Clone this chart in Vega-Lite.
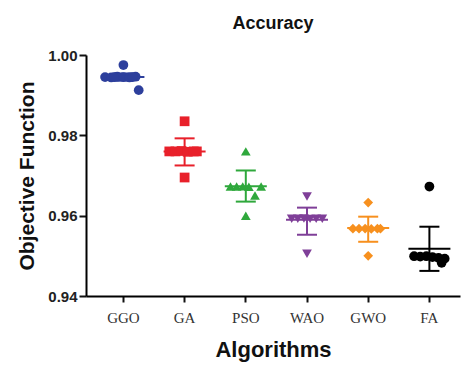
{
  "$schema": "https://vega.github.io/schema/vega-lite/v6.json",
  "autosize": "none",
  "width": 374,
  "height": 241,
  "padding": {"left": 86, "top": 55, "right": 2, "bottom": 69},
  "background": "white",
  "config": {"view": {"stroke": null}, "font": "Liberation Sans"},
  "title": {"text": "Accuracy", "fontSize": 18, "fontWeight": "bold", "font": "Liberation Sans", "color": "#111", "anchor": "middle", "offset": 15},
  "datasets": {
    "points": [
      {"alg": "GGO", "value": 0.9975, "slot": 0},
      {"alg": "GGO", "value": 0.9945, "slot": -6},
      {"alg": "GGO", "value": 0.9944, "slot": -4},
      {"alg": "GGO", "value": 0.9946, "slot": -2},
      {"alg": "GGO", "value": 0.9945, "slot": 0},
      {"alg": "GGO", "value": 0.9944, "slot": 2},
      {"alg": "GGO", "value": 0.9946, "slot": 4},
      {"alg": "GGO", "value": 0.9945, "slot": -3},
      {"alg": "GGO", "value": 0.9945, "slot": 3},
      {"alg": "GGO", "value": 0.99125, "slot": 5},
      {"alg": "GA", "value": 0.9835, "slot": 0},
      {"alg": "GA", "value": 0.976, "slot": -5},
      {"alg": "GA", "value": 0.976, "slot": -3},
      {"alg": "GA", "value": 0.9761, "slot": -1},
      {"alg": "GA", "value": 0.9759, "slot": 1},
      {"alg": "GA", "value": 0.976, "slot": 3},
      {"alg": "GA", "value": 0.976, "slot": 4},
      {"alg": "GA", "value": 0.9695, "slot": 0},
      {"alg": "PSO", "value": 0.976, "slot": 0},
      {"alg": "PSO", "value": 0.96725, "slot": -5},
      {"alg": "PSO", "value": 0.96725, "slot": -3},
      {"alg": "PSO", "value": 0.9673, "slot": -1},
      {"alg": "PSO", "value": 0.9672, "slot": 1},
      {"alg": "PSO", "value": 0.96725, "slot": 5},
      {"alg": "PSO", "value": 0.965, "slot": 3},
      {"alg": "PSO", "value": 0.96, "slot": 0},
      {"alg": "WAO", "value": 0.96475, "slot": 0},
      {"alg": "WAO", "value": 0.95925, "slot": -5},
      {"alg": "WAO", "value": 0.95925, "slot": -3},
      {"alg": "WAO", "value": 0.9593, "slot": -1},
      {"alg": "WAO", "value": 0.9592, "slot": 1},
      {"alg": "WAO", "value": 0.95925, "slot": 3},
      {"alg": "WAO", "value": 0.95925, "slot": 5},
      {"alg": "WAO", "value": 0.9505, "slot": 0},
      {"alg": "GWO", "value": 0.96325, "slot": 0},
      {"alg": "GWO", "value": 0.95675, "slot": -5},
      {"alg": "GWO", "value": 0.95675, "slot": -3},
      {"alg": "GWO", "value": 0.9568, "slot": -1},
      {"alg": "GWO", "value": 0.9567, "slot": 1},
      {"alg": "GWO", "value": 0.95675, "slot": 3},
      {"alg": "GWO", "value": 0.95675, "slot": 4},
      {"alg": "GWO", "value": 0.95, "slot": 0},
      {"alg": "FA", "value": 0.96725, "slot": 0},
      {"alg": "FA", "value": 0.9499, "slot": -5},
      {"alg": "FA", "value": 0.9498, "slot": -3},
      {"alg": "FA", "value": 0.9499, "slot": -1},
      {"alg": "FA", "value": 0.9497, "slot": 1},
      {"alg": "FA", "value": 0.9495, "slot": 3},
      {"alg": "FA", "value": 0.94825, "slot": 4},
      {"alg": "FA", "value": 0.9493, "slot": 5}
    ],
    "summary": [
      {"alg": "GGO", "mean": 0.9945, "lo": 0.9936, "hi": 0.9954},
      {"alg": "GA", "mean": 0.976, "lo": 0.9725, "hi": 0.97925},
      {"alg": "PSO", "mean": 0.9673, "lo": 0.9635, "hi": 0.97125},
      {"alg": "WAO", "mean": 0.959, "lo": 0.95525, "hi": 0.962},
      {"alg": "GWO", "mean": 0.9569, "lo": 0.9535, "hi": 0.95975},
      {"alg": "FA", "mean": 0.95175, "lo": 0.94625, "hi": 0.95725}
    ]
  },
  "encoding": {
    "x": {
      "field": "alg", "type": "nominal",
      "sort": ["GGO", "GA", "PSO", "WAO", "GWO", "FA"],
      "scale": {"type": "band", "paddingInner": 0, "paddingOuter": 0.0556, "align": 1},
      "axis": {
        "title": "Algorithms", "titleFontSize": 22, "titleFontWeight": "bold", "titleColor": "#111", "titleFont": "Liberation Sans", "titlePadding": 14,
        "labelFont": "Liberation Serif", "labelFontSize": 15, "labelColor": "#333", "labelAngle": 0, "labelPadding": 8,
        "domainColor": "#000", "domainWidth": 2, "tickColor": "#111", "tickWidth": 2, "tickSize": 6, "grid": false
      }
    },
    "color": {
      "field": "alg", "type": "nominal", "legend": null,
      "scale": {"domain": ["GGO", "GA", "PSO", "WAO", "GWO", "FA"], "range": ["#2d3f9c", "#e8202a", "#2fa83c", "#7f3f98", "#f7901e", "#000000"]}
    }
  },
  "layer": [
    {
      "data": {"name": "summary"},
      "mark": {"type": "rule", "strokeWidth": 2},
      "encoding": {
        "y": {"field": "lo", "type": "quantitative"},
        "y2": {"field": "hi"}
      }
    },
    {
      "data": {"name": "summary"},
      "mark": {"type": "tick", "thickness": 2, "size": 20, "opacity": 1},
      "encoding": {"y": {"field": "lo", "type": "quantitative"}}
    },
    {
      "data": {"name": "summary"},
      "mark": {"type": "tick", "thickness": 2, "size": 20, "opacity": 1},
      "encoding": {"y": {"field": "hi", "type": "quantitative"}}
    },
    {
      "data": {"name": "summary"},
      "mark": {"type": "tick", "thickness": 2, "size": 42, "opacity": 1},
      "encoding": {"y": {"field": "mean", "type": "quantitative"}}
    },
    {
      "data": {"name": "points"},
      "mark": {"type": "point", "filled": true, "opacity": 1, "size": 95},
      "encoding": {
        "xOffset": {"field": "slot", "type": "quantitative", "scale": {"domain": [-10, 10], "range": [0, 61.2]}},
        "y": {
          "field": "value", "type": "quantitative",
          "scale": {"domain": [0.94, 1.0], "nice": false, "zero": false},
          "axis": {
            "title": "Objective Function", "titleFontSize": 21, "titleFontWeight": "bold", "titleColor": "#111", "titleFont": "Liberation Sans", "titlePadding": 10,
            "values": [0.94, 0.96, 0.98, 1.0], "format": ".2f",
            "labelFont": "Liberation Sans", "labelFontSize": 15, "labelFontWeight": "bold", "labelColor": "#222", "labelPadding": 2,
            "domainColor": "#000", "domainWidth": 2, "tickColor": "#111", "tickWidth": 2, "tickSize": 7, "grid": false
          }
        },
        "shape": {
          "field": "alg", "type": "nominal", "legend": null,
          "scale": {"domain": ["GGO", "GA", "PSO", "WAO", "GWO", "FA"], "range": ["circle", "square", "triangle-up", "triangle-down", "diamond", "circle"]}
        }
      }
    }
  ],
  "resolve": {"scale": {"y": "shared"}}
}
